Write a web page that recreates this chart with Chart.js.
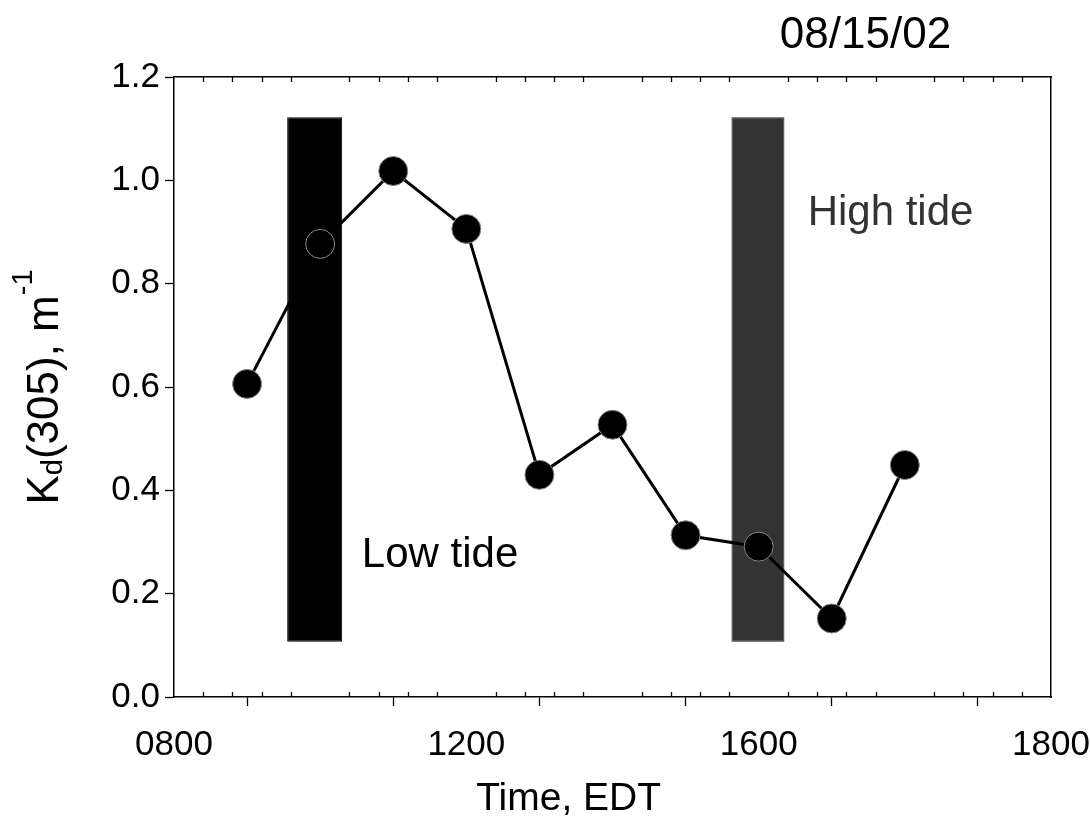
<!DOCTYPE html>
<html>
<head>
<meta charset="utf-8">
<script src="https://cdn.jsdelivr.net/npm/chart.js@4/dist/chart.umd.min.js"></script>
<style>
  html, body { margin: 0; padding: 0; background: #fff; }
  #wrap { width: 1090px; height: 816px; }
</style>
</head>
<body>
<div id="wrap"><canvas id="kd-chart" width="1090" height="816"></canvas></div>
<script>
// sampling times (hours) and Kd(305) values
const hours = [9, 10, 11, 12, 13, 14, 15, 16, 17, 18];
const kd305 = [0.606, 0.877, 1.018, 0.906, 0.430, 0.527, 0.313, 0.291, 0.152, 0.449];

// tide windows (hours) and the vertical extent of the shaded bars
const lowTide = [9.55, 10.30];
const highTide = [15.63, 16.35];
const tideBarRange = [0.107, 1.122];

// axis ticks
const xRange = [8, 20];
const xMajorStep = 2;
const xMinorStep = 0.4;
const xTickLabels = { 8: '0800', 12: '1200', 16: '1600', 20: '1800' };
const yRange = [0, 1.2];
const yStep = 0.2;

const FONT = "'Liberation Sans', Arial, sans-serif";

const extras = {
  id: 'extras',
  afterDraw(chart) {
    const { ctx, chartArea } = chart;
    const x = chart.scales.x;
    const y = chart.scales.y;

    // minor ticks pointing inward on top and bottom frame
    ctx.save();
    ctx.strokeStyle = '#000';
    ctx.lineWidth = 1.3;
    const n = Math.round((xRange[1] - xRange[0]) / xMinorStep);
    const perMajor = Math.round(xMajorStep / xMinorStep);
    for (let i = 1; i < n; i++) {
      if (i % perMajor === 0) continue;
      const px = Math.round(x.getPixelForValue(xRange[0] + i * xMinorStep)) + 0.5;
      ctx.beginPath();
      ctx.moveTo(px, chartArea.bottom);
      ctx.lineTo(px, chartArea.bottom - 5);
      ctx.moveTo(px, chartArea.top);
      ctx.lineTo(px, chartArea.top + 5);
      ctx.stroke();
    }
    ctx.restore();

    // in-plot labels
    ctx.save();
    ctx.textBaseline = 'alphabetic';
    ctx.textAlign = 'left';
    ctx.font = `42px ${FONT}`;
    ctx.fillStyle = '#000';
    ctx.fillText('Low tide', x.getPixelForValue(10.57), y.getPixelForValue(0.252));
    ctx.fillStyle = '#333';
    ctx.fillText('High tide', x.getPixelForValue(16.67), y.getPixelForValue(0.913));

    // date in the upper right
    ctx.fillStyle = '#000';
    ctx.font = `44px ${FONT}`;
    ctx.fillText('08/15/02', x.getPixelForValue(16.29), chartArea.top - 29);

    // x axis title
    ctx.font = `39px ${FONT}`;
    ctx.textAlign = 'center';
    ctx.fillText('Time, EDT', x.getPixelForValue(13.4), 810);
    ctx.restore();

    // y axis title with subscript and superscript
    const parts = [
      { t: 'K', size: 44, dy: 0 },
      { t: 'd', size: 29, dy: 4 },
      { t: '(305), m', size: 44, dy: 0 },
      { t: '-1', size: 29, dy: -26 }
    ];
    ctx.save();
    let total = 0;
    parts.forEach(p => {
      ctx.font = `${p.size}px ${FONT}`;
      p.w = ctx.measureText(p.t).width;
      total += p.w;
    });
    ctx.translate(58, (chartArea.top + chartArea.bottom) / 2);
    ctx.rotate(-Math.PI / 2);
    ctx.fillStyle = '#000';
    ctx.textAlign = 'left';
    ctx.textBaseline = 'alphabetic';
    let cx = -total / 2;
    parts.forEach(p => {
      ctx.font = `${p.size}px ${FONT}`;
      ctx.fillText(p.t, cx, p.dy);
      cx += p.w;
    });
    ctx.restore();
  }
};

const ctx = document.getElementById('kd-chart');
new Chart(ctx, {
  type: 'line',
  data: {
    datasets: [
      {
        label: 'Kd(305)',
        data: hours.map((h, i) => ({ x: h, y: kd305[i] })),
        borderColor: '#000',
        borderWidth: 3,
        pointRadius: 14.5,
        pointHoverRadius: 14.5,
        pointBackgroundColor: '#000',
        pointBorderColor: '#888',
        pointBorderWidth: 1,
        tension: 0,
        order: 0
      },
      {
        type: 'bar',
        label: 'Low tide',
        data: [{ x: (lowTide[0] + lowTide[1]) / 2, y: tideBarRange }],
        backgroundColor: '#000',
        borderColor: '#000',
        borderWidth: 1,
        borderSkipped: false,
        grouped: false,
        maxBarThickness: 55,
        order: 1
      },
      {
        type: 'bar',
        label: 'High tide',
        data: [{ x: (highTide[0] + highTide[1]) / 2, y: tideBarRange }],
        backgroundColor: '#333',
        borderColor: '#1a1a1a',
        borderWidth: 1,
        borderSkipped: false,
        grouped: false,
        maxBarThickness: 53,
        order: 1
      }
    ]
  },
  options: {
    responsive: false,
    animation: false,
    layout: { padding: { top: 77, right: 39, left: 0, bottom: 0 } },
    plugins: {
      legend: { display: false },
      tooltip: { enabled: false },
      title: { display: false }
    },
    scales: {
      x: {
        type: 'linear',
        position: 'bottom',
        min: xRange[0],
        max: xRange[1],
        offset: false,
        afterFit(scale) {
          scale.height = 119;
          scale.paddingLeft = 0;
          scale.paddingRight = 0;
        },
        ticks: {
          stepSize: xMajorStep,
          autoSkip: false,
          maxRotation: 0,
          color: '#000',
          padding: 18,
          font: { family: FONT, size: 35 },
          callback(value) { return xTickLabels[value] || ''; }
        },
        grid: {
          drawOnChartArea: false,
          tickLength: 9,
          tickColor: '#000',
          tickWidth: 1.3
        },
        border: { display: true, color: '#000', width: 1.5 }
      },
      xTop: {
        type: 'linear',
        position: 'top',
        min: xRange[0],
        max: xRange[1],
        afterFit(scale) {
          scale.height = 0;
          scale.paddingLeft = 0;
          scale.paddingRight = 0;
        },
        ticks: { display: false },
        grid: { display: false },
        border: { display: true, color: '#000', width: 1.5 }
      },
      y: {
        type: 'linear',
        min: yRange[0],
        max: yRange[1],
        afterFit(scale) { scale.width = 174; },
        ticks: {
          stepSize: yStep,
          color: '#000',
          padding: 5,
          font: { family: FONT, size: 35 },
          callback(value) { return value.toFixed(1); }
        },
        grid: {
          drawOnChartArea: false,
          tickLength: 9,
          tickColor: '#000',
          tickWidth: 1.3
        },
        border: { display: true, color: '#000', width: 1.5 }
      },
      yRight: {
        type: 'linear',
        position: 'right',
        min: yRange[0],
        max: yRange[1],
        afterFit(scale) { scale.width = 0; },
        ticks: { display: false },
        grid: { display: false },
        border: { display: true, color: '#000', width: 1.5 }
      }
    }
  },
  plugins: [extras]
});
</script>
</body>
</html>
